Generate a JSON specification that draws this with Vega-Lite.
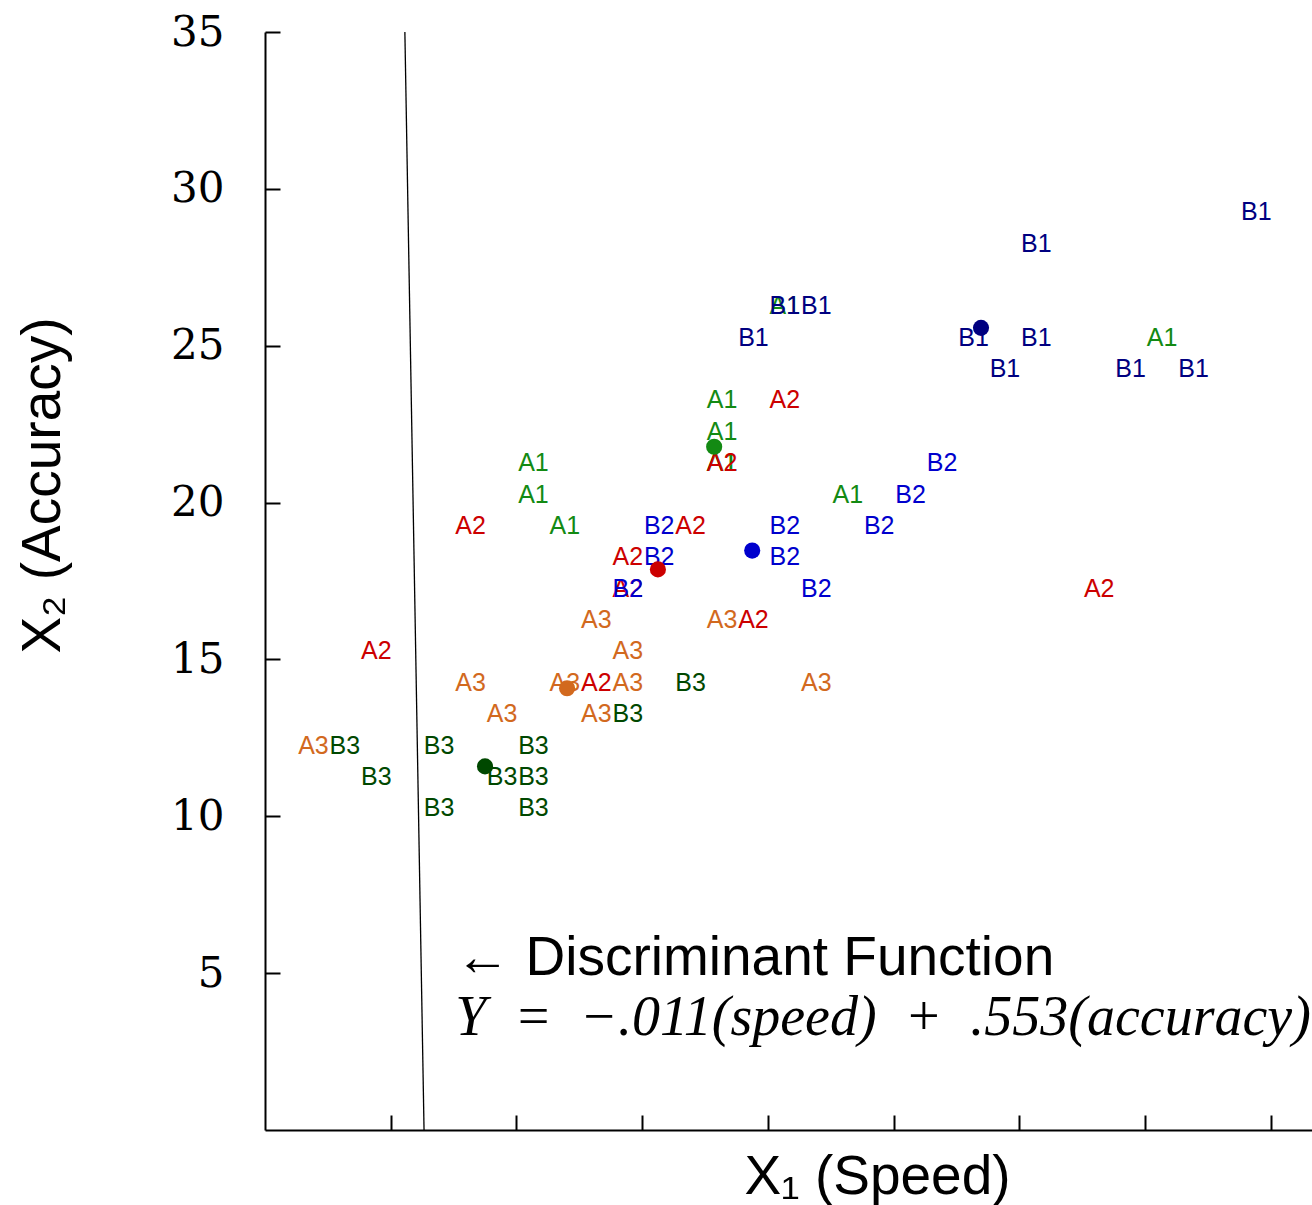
{
  "$schema": "https://vega.github.io/schema/vega-lite/v6.json",
  "width": 1047,
  "height": 1098,
  "autosize": "none",
  "padding": {"left": 265, "top": 32, "right": 0, "bottom": 75},
  "background": "white",
  "config": {
    "view": {"stroke": null},
    "axis": {"grid": false, "domainColor": "black", "tickColor": "black", "labelColor": "black", "titleColor": "black", "domainWidth": 2, "tickWidth": 2, "tickSize": -15, "titleFontWeight": "normal", "titleFont": "Liberation Sans", "titleFontSize": 55, "titleAlign": "center", "titleBaseline": "alphabetic"}
  },
  "datasets": {
    "pts": [
      {"g": "A1", "x": 8, "y": 21}, {"g": "A1", "x": 8, "y": 20}, {"g": "A1", "x": 9, "y": 19}, {"g": "A1", "x": 14, "y": 23}, {"g": "A1", "x": 14, "y": 22}, {"g": "A1", "x": 14, "y": 21}, {"g": "A1", "x": 14, "y": 21}, {"g": "A1", "x": 16, "y": 26}, {"g": "A1", "x": 18, "y": 20}, {"g": "A1", "x": 28, "y": 25},
      {"g": "A2", "x": 6, "y": 19}, {"g": "A2", "x": 3, "y": 15}, {"g": "A2", "x": 13, "y": 19}, {"g": "A2", "x": 11, "y": 18}, {"g": "A2", "x": 11, "y": 17}, {"g": "A2", "x": 14, "y": 21}, {"g": "A2", "x": 16, "y": 23}, {"g": "A2", "x": 15, "y": 16}, {"g": "A2", "x": 10, "y": 14}, {"g": "A2", "x": 26, "y": 17},
      {"g": "A3", "x": 1, "y": 12}, {"g": "A3", "x": 6, "y": 14}, {"g": "A3", "x": 7, "y": 13}, {"g": "A3", "x": 9, "y": 14}, {"g": "A3", "x": 10, "y": 16}, {"g": "A3", "x": 11, "y": 15}, {"g": "A3", "x": 11, "y": 14}, {"g": "A3", "x": 10, "y": 13}, {"g": "A3", "x": 14, "y": 16}, {"g": "A3", "x": 17, "y": 14},
      {"g": "B1", "x": 31, "y": 29}, {"g": "B1", "x": 24, "y": 28}, {"g": "B1", "x": 16, "y": 26}, {"g": "B1", "x": 17, "y": 26}, {"g": "B1", "x": 15, "y": 25}, {"g": "B1", "x": 22, "y": 25}, {"g": "B1", "x": 24, "y": 25}, {"g": "B1", "x": 23, "y": 24}, {"g": "B1", "x": 27, "y": 24}, {"g": "B1", "x": 29, "y": 24},
      {"g": "B2", "x": 21, "y": 21}, {"g": "B2", "x": 20, "y": 20}, {"g": "B2", "x": 19, "y": 19}, {"g": "B2", "x": 12, "y": 19}, {"g": "B2", "x": 16, "y": 19}, {"g": "B2", "x": 12, "y": 18}, {"g": "B2", "x": 16, "y": 18}, {"g": "B2", "x": 17, "y": 17}, {"g": "B2", "x": 11, "y": 17},
      {"g": "B3", "x": 2, "y": 12}, {"g": "B3", "x": 3, "y": 11}, {"g": "B3", "x": 5, "y": 12}, {"g": "B3", "x": 5, "y": 10}, {"g": "B3", "x": 7, "y": 11}, {"g": "B3", "x": 8, "y": 11}, {"g": "B3", "x": 8, "y": 12}, {"g": "B3", "x": 8, "y": 10}, {"g": "B3", "x": 11, "y": 13}, {"g": "B3", "x": 13, "y": 14}
    ],
    "means": [
      {"g": "A1", "x": 14.29, "y": 21.78},
      {"g": "A2", "x": 12.5, "y": 17.87},
      {"g": "A3", "x": 9.61, "y": 14.08},
      {"g": "B1", "x": 22.78, "y": 25.57},
      {"g": "B2", "x": 15.5, "y": 18.47},
      {"g": "B3", "x": 7.0, "y": 11.59}
    ],
    "discrim": [
      {"x": 4.45, "y": 35},
      {"x": 5.06, "y": 0}
    ],
    "notes1": [
      {"label": "← Discriminant Function", "x": 6.05, "y": 4.94}
    ],
    "notes2": [
      {"label": "Y\u2002=\u2002−.011(speed)\u2002+\u2002.553(accuracy)", "x": 6.05, "y": 3.03}
    ]
  },
  "data": {"name": "pts"},
  "encoding": {
    "x": {
      "field": "x", "type": "quantitative",
      "scale": {"domain": [0, 33.31], "nice": false, "zero": false},
      "axis": {"values": [4, 8, 12, 16, 20, 24, 28, 32], "labels": false, "title": "X₁ (Speed)", "titleX": 612, "titleY": 63}
    },
    "y": {
      "field": "y", "type": "quantitative",
      "scale": {"domain": [0, 35], "nice": false, "zero": false},
      "axis": {"values": [5, 10, 15, 20, 25, 30, 35], "labelFont": "DejaVu Serif", "labelFontSize": 42, "labelPadding": 56, "labelBaseline": "middle", "title": "X₂ (Accuracy)", "titleX": -206, "titleY": 453}
    }
  },
  "layer": [
    {
      "mark": {"type": "text", "font": "Liberation Sans", "fontSize": 25, "align": "center", "baseline": "alphabetic", "dx": 17},
      "encoding": {
        "text": {"field": "g"},
        "color": {"field": "g", "type": "nominal", "scale": {"domain": ["A1", "A2", "A3", "B1", "B2", "B3"], "range": ["#138a13", "#cc0000", "#d2691e", "#000080", "#0000cd", "#004800"]}, "legend": null}
      }
    },
    {
      "data": {"name": "means"},
      "mark": {"type": "circle", "size": 260, "opacity": 1},
      "encoding": {
        "color": {"field": "g", "type": "nominal", "legend": null}
      }
    },
    {
      "data": {"name": "discrim"},
      "mark": {"type": "line", "color": "black", "strokeWidth": 1.3},
      "encoding": {}
    },
    {
      "data": {"name": "notes1"},
      "mark": {"type": "text", "font": "Liberation Sans", "fontSize": 55, "align": "left", "baseline": "alphabetic", "color": "black"},
      "encoding": {
        "text": {"field": "label"}
      }
    },
    {
      "data": {"name": "notes2"},
      "mark": {"type": "text", "font": "Liberation Serif", "fontStyle": "italic", "fontSize": 56, "align": "left", "baseline": "alphabetic", "color": "black"},
      "encoding": {
        "text": {"field": "label"}
      }
    }
  ]
}
